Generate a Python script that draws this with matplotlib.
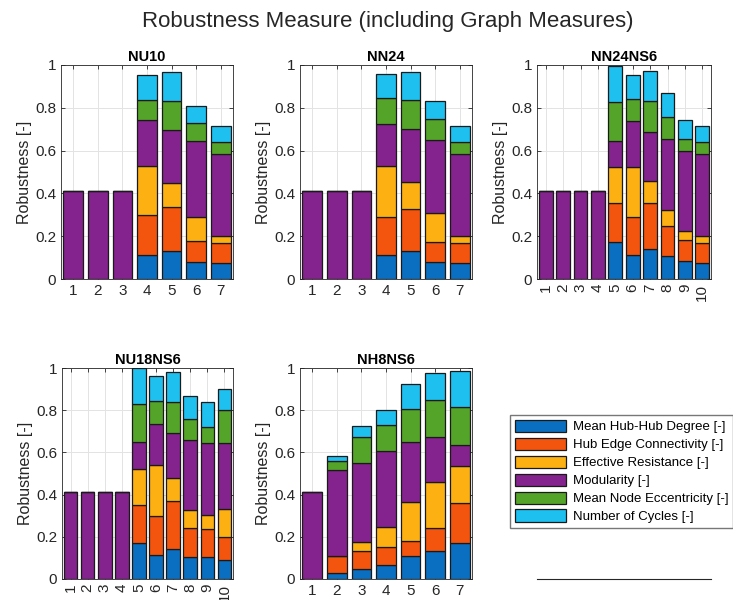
import matplotlib
matplotlib.use("Agg")
import matplotlib.pyplot as plt
import numpy as np

plt.rcParams['font.family'] = ['Liberation Sans', 'DejaVu Sans']

measures = ["Mean Hub-Hub Degree [-]", "Hub Edge Connectivity [-]",
            "Effective Resistance [-]", "Modularity [-]",
            "Mean Node Eccentricity [-]", "Number of Cycles [-]"]
colors = ['#0A6FC0', '#F4550E', '#FCB012', '#85238E', '#55A42A', '#1EC0F0']

# one row per measure, one column per bar (segment heights)
nu10 = [
  [0, 0, 0, 0.113, 0.131, 0.079, 0.073],
  [0, 0, 0, 0.184, 0.205, 0.097, 0.095],
  [0, 0, 0, 0.233, 0.112, 0.116, 0.034],
  [0.41, 0.41, 0.41, 0.212, 0.249, 0.353, 0.380],
  [0, 0, 0, 0.096, 0.137, 0.083, 0.060],
  [0, 0, 0, 0.115, 0.132, 0.081, 0.073],
]
nn24 = [
  [0, 0, 0, 0.113, 0.131, 0.079, 0.073],
  [0, 0, 0, 0.175, 0.194, 0.094, 0.095],
  [0, 0, 0, 0.242, 0.128, 0.135, 0.034],
  [0.41, 0.41, 0.41, 0.196, 0.248, 0.341, 0.380],
  [0, 0, 0, 0.122, 0.137, 0.099, 0.060],
  [0, 0, 0, 0.108, 0.131, 0.082, 0.073],
]
nn24ns6 = [
  [0, 0, 0, 0, 0.174, 0.113, 0.138, 0.106, 0.082, 0.073],
  [0, 0, 0, 0, 0.179, 0.175, 0.218, 0.140, 0.098, 0.095],
  [0, 0, 0, 0, 0.170, 0.235, 0.100, 0.077, 0.042, 0.034],
  [0.41, 0.41, 0.41, 0.41, 0.122, 0.213, 0.233, 0.332, 0.374, 0.380],
  [0, 0, 0, 0, 0.182, 0.107, 0.145, 0.104, 0.059, 0.060],
  [0, 0, 0, 0, 0.168, 0.110, 0.140, 0.110, 0.090, 0.073],
]
nu18ns6 = [
  [0, 0, 0, 0, 0.169, 0.112, 0.142, 0.103, 0.103, 0.090],
  [0, 0, 0, 0, 0.180, 0.187, 0.226, 0.139, 0.134, 0.109],
  [0, 0, 0, 0, 0.172, 0.243, 0.112, 0.087, 0.065, 0.134],
  [0.41, 0.41, 0.41, 0.41, 0.127, 0.191, 0.210, 0.331, 0.341, 0.312],
  [0, 0, 0, 0, 0.180, 0.112, 0.147, 0.098, 0.077, 0.156],
  [0, 0, 0, 0, 0.172, 0.117, 0.142, 0.109, 0.117, 0.098],
]
nh8ns6 = [
  [0, 0.027, 0.049, 0.066, 0.111, 0.134, 0.172],
  [0, 0.084, 0.082, 0.084, 0.071, 0.107, 0.187],
  [0, 0.0, 0.043, 0.098, 0.185, 0.221, 0.177],
  [0.41, 0.405, 0.375, 0.361, 0.280, 0.210, 0.098],
  [0, 0.043, 0.123, 0.119, 0.158, 0.175, 0.181],
  [0, 0.025, 0.053, 0.074, 0.119, 0.131, 0.172],
]

panels = [("NU10", nu10), ("NN24", nn24), ("NN24NS6", nn24ns6),
          ("NU18NS6", nu18ns6), ("NH8NS6", nh8ns6)]

W, H = 733, 600
fig = plt.figure(figsize=(W/100, H/100), dpi=100)

# axes boxes in pixels: left, top, right, bottom
boxes = [(61, 65, 233, 279), (300, 65, 472, 279), (537, 65, 711, 279),
         (62, 368, 233, 579), (300, 368, 472, 579)]

def px_axes(b):
  l, t, r, bt = b
  return fig.add_axes([l/W, 1-bt/H, (r-l)/W, (bt-t)/H])

handles = None
for (name, vals), box in zip(panels, boxes):
  ax = px_axes(box)
  vals = np.array(vals)
  n = vals.shape[1]
  x = np.arange(1, n+1)
  bottom = np.zeros(n)
  hs = []
  for i in range(6):
    h = ax.bar(x, vals[i], 0.8, bottom=bottom, color=colors[i],
               edgecolor='#1a1a1a', linewidth=0.9, zorder=3, label=measures[i])
    bottom = bottom + vals[i]
    hs.append(h)
  handles = hs
  ax.set_xlim(0.5, n+0.5)
  ax.set_ylim(0, 1)
  ax.set_xticks(x)
  if n == 10:
    ax.set_xticklabels([str(v) for v in x], rotation=90)
  ax.set_yticks([0, 0.2, 0.4, 0.6, 0.8, 1])
  ax.set_yticklabels(["0", "0.2", "0.4", "0.6", "0.8", "1"])
  ax.grid(True, color='#e3e3e3', linewidth=0.7, zorder=0)
  ax.tick_params(direction='in', top=True, right=True, length=3,
                 labelsize=11, colors='#262626', width=0.6)
  for s in ax.spines.values():
    s.set_color('#262626')
    s.set_linewidth(0.6)
  ax.set_ylabel("Robustness [-]", fontsize=11.5, color='#262626', labelpad=2)
  ax.set_title(name, fontsize=10.5, fontweight='bold', pad=3)

# empty sixth axes, only its bottom line shows
ax6 = px_axes((537, 368, 711, 579))
for k in ['top', 'left', 'right']:
  ax6.spines[k].set_visible(False)
ax6.spines['bottom'].set_color('#262626')
ax6.set_xticks([])
ax6.set_yticks([])
ax6.patch.set_alpha(0)

fig.legend(handles, measures, loc='upper left', bbox_to_anchor=(510/W, 1-415/H),
           borderaxespad=0, fontsize=9.5, frameon=True, fancybox=False,
           edgecolor='#555555', handlelength=3.9, handleheight=1.05,
           labelspacing=0.33, handletextpad=0.5, borderpad=0.35)

fig.suptitle("Robustness Measure (including Graph Measures)", fontsize=16,
             x=388/W, y=1-21/H, va='center', color='#262626')

fig.savefig("out.png", dpi=100)
